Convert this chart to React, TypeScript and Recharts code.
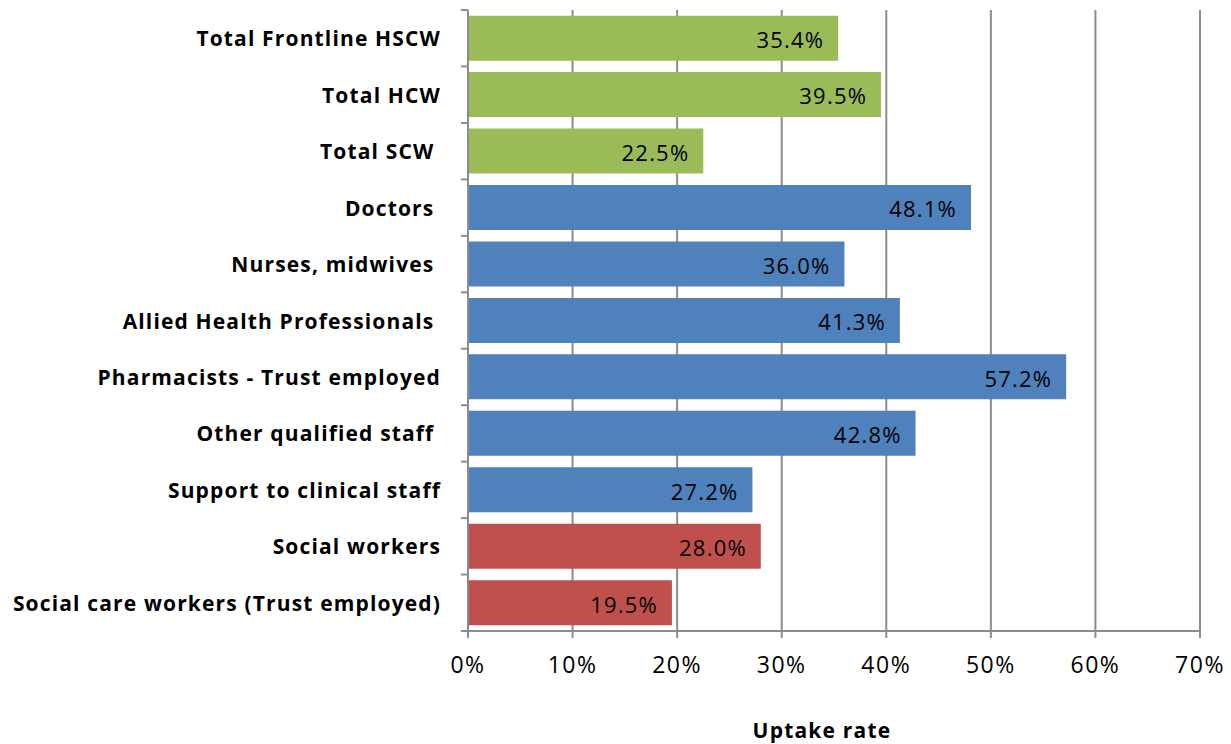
import React from "react";
import {
  BarChart,
  Bar,
  XAxis,
  YAxis,
  CartesianGrid,
  Cell,
  LabelList,
} from "recharts";

const categories = [
  "Total Frontline HSCW",
  "Total HCW",
  "Total SCW ",
  "Doctors ",
  "Nurses, midwives ",
  "Allied Health Professionals ",
  "Pharmacists - Trust employed",
  "Other qualified staff ",
  "Support to clinical staff",
  "Social workers",
  "Social care workers (Trust employed)",
];

const uptake = [35.4, 39.5, 22.5, 48.1, 36.0, 41.3, 57.2, 42.8, 27.2, 28.0, 19.5];

const groups = ["total", "total", "total", "hcw", "hcw", "hcw", "hcw", "hcw", "hcw", "scw", "scw"];

const xTicks = [0, 10, 20, 30, 40, 50, 60, 70];

const groupColors: Record<string, string> = {
  total: "#9BBB59",
  hcw: "#4F81BD",
  scw: "#C0504D",
};

const data = categories.map((name, i) => ({ name, value: uptake[i], group: groups[i] }));

const FONT = "'Open Sans', 'Noto Sans', sans-serif";
const GRID = "#8c8c8c";

function CategoryTick(props: any) {
  const { x, y, payload, index } = props;
  const half = payload?.offset ?? 28;
  const axisX = x + 27;
  return (
    <g>
      <line x1={axisX - 7} x2={axisX} y1={y - half} y2={y - half} stroke={GRID} strokeWidth={2} />
      {index === categories.length - 1 && (
        <line x1={axisX - 7} x2={axisX} y1={y + half} y2={y + half} stroke={GRID} strokeWidth={2} />
      )}
      <text
        x={x}
        y={y}
        dy={8}
        textAnchor="end"
        fontFamily={FONT}
        fontWeight="bold"
        fontSize={21}
        letterSpacing={1.15}
        fill="#000"
        style={{ whiteSpace: "pre" }}
      >
        {payload.value}
      </text>
    </g>
  );
}

export default function App() {
  return (
    <div style={{ position: "absolute", left: 0, top: 0, background: "#fff" }}>
      <BarChart
        width={1231}
        height={744}
        data={data}
        layout="vertical"
        margin={{ top: 10, right: 31, bottom: 0, left: 0 }}
        barCategoryGap="10%"
      >
        <CartesianGrid horizontal={false} stroke={GRID} strokeWidth={2} />
        <XAxis
          type="number"
          domain={[0, 70]}
          ticks={xTicks}
          tickFormatter={(v: number) => `${v}%`}
          height={113}
          tickSize={7}
          tickMargin={19}
          axisLine={{ stroke: GRID, strokeWidth: 2 }}
          tickLine={{ stroke: GRID, strokeWidth: 2 }}
          tick={{ fontSize: 23, fill: "#000", fontFamily: FONT, letterSpacing: 1.5 }}
          label={{
            value: "Uptake rate",
            position: "insideBottom",
            offset: 6,
            dx: -12,
            style: {
              fontSize: 21,
              fontWeight: "bold",
              fill: "#000",
              fontFamily: FONT,
              letterSpacing: 1.2,
            },
          }}
        />
        <YAxis
          type="category"
          dataKey="name"
          width={468}
          tickSize={7}
          tickMargin={20}
          tickLine={false}
          axisLine={{ stroke: GRID, strokeWidth: 2 }}
          tick={<CategoryTick />}
          interval={0}
        />
        <Bar dataKey="value" isAnimationActive={false}>
          {data.map((d, i) => (
            <Cell key={i} fill={groupColors[d.group]} />
          ))}
          <LabelList
            dataKey="value"
            position="insideRight"
            offset={14}
            dy={2}
            formatter={(v: any) => `${Number(v).toFixed(1)}%`}
            style={{ fontSize: 22, fill: "#000", fontFamily: FONT, letterSpacing: 1.2 }}
          />
        </Bar>
      </BarChart>
    </div>
  );
}
